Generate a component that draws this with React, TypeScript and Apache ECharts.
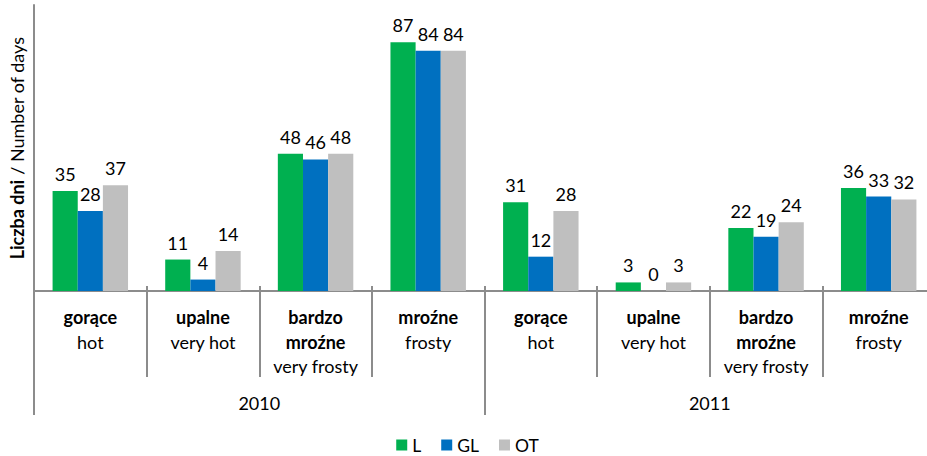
import React, { useEffect, useRef } from "react";
import * as echarts from "echarts";

const categoriesPl = ["gorące", "upalne", "bardzo\nmroźne", "mroźne", "gorące", "upalne", "bardzo\nmroźne", "mroźne"];
const categoriesEn = ["hot", "very hot", "very frosty", "frosty", "hot", "very hot", "very frosty", "frosty"];
const years = ["2010", "2011"];
const seriesNames = ["L", "GL", "OT"];
const valuesL = [35, 11, 48, 87, 31, 3, 22, 36];
const valuesGL = [28, 4, 46, 84, 12, 0, 19, 33];
const valuesOT = [37, 14, 48, 84, 28, 3, 24, 32];
const colors = ["#00B050", "#0070C0", "#BFBFBF"];

const FONT = "Lato";
const AXIS_COLOR = "#8C8C8C";

export default function App() {
  const ref = useRef<HTMLDivElement>(null);
  useEffect(() => {
    if (!ref.current) return;
    const chart = echarts.init(ref.current, null, { renderer: "svg" });
    const catLabels = categoriesPl.map((pl, i) => {
      const plLines = pl.split("\n").map((l) => `{b|${l}}`).join("\n");
      return `${plLines}\n{r|${categoriesEn[i]}}`;
    });
    const values = [valuesL, valuesGL, valuesOT];
    chart.setOption({
      animation: false,
      textStyle: { fontFamily: FONT },
      grid: { left: 32, right: 0, top: 5, bottom: 165, containLabel: false },
      legend: {
        bottom: -3,
        left: "center",
        icon: "rect",
        itemWidth: 11,
        itemHeight: 11,
        itemGap: 20,
        textStyle: { fontSize: 17.5, color: "#000", fontFamily: FONT },
        data: seriesNames,
      },
      xAxis: [
        {
          type: "category",
          data: catLabels,
          axisLine: { show: true, lineStyle: { color: AXIS_COLOR, width: 2 } },
          axisTick: { show: true, interval: 0, length: 86, lineStyle: { color: AXIS_COLOR, width: 2 } },
          axisLabel: {
            interval: 0,
            margin: 14,
            color: "#000",
            lineHeight: 24.5,
            rich: {
              b: { fontWeight: "bold", fontSize: 18, fontFamily: FONT, color: "#000", lineHeight: 24.5 },
              r: { fontSize: 18, fontFamily: FONT, color: "#000", lineHeight: 24.5 },
            },
          },
          splitLine: { show: false },
        },
        {
          type: "category",
          data: years,
          position: "bottom",
          axisLine: { show: false },
          axisTick: { show: true, interval: 0, length: 124, lineStyle: { color: AXIS_COLOR, width: 2 } },
          axisLabel: { interval: 0, margin: 103, fontSize: 18, color: "#000", fontFamily: FONT },
          splitLine: { show: false },
        },
        {
          type: "category",
          data: catLabels,
          position: "bottom",
          axisLine: { show: false },
          axisTick: { show: true, inside: true, interval: 0, length: 5, lineStyle: { color: AXIS_COLOR, width: 2 } },
          axisLabel: { show: false },
          splitLine: { show: false },
        },
      ],
      yAxis: {
        type: "value",
        min: 0,
        max: 100,
        axisLine: { show: true, lineStyle: { color: AXIS_COLOR, width: 2 } },
        axisTick: { show: false },
        axisLabel: { show: false },
        splitLine: { show: false },
        name: "{b|Liczba dni} / Number of days",
        nameLocation: "middle",
        nameRotate: 90,
        nameGap: 8,
        nameTextStyle: {
          fontSize: 18,
          color: "#000",
          fontFamily: FONT,
          rich: {
            b: { fontWeight: "bold", fontSize: 18, color: "#000", fontFamily: FONT },
          },
        },
      },
      series: seriesNames.map((name, i) => ({
        name,
        type: "bar",
        xAxisIndex: 0,
        data: values[i],
        barGap: "0%",
        barCategoryGap: "33%",
        itemStyle: { color: colors[i] },
        label: {
          show: true,
          position: "top",
          distance: 8,
          fontSize: 18,
          color: "#000",
          fontFamily: FONT,
        },
      })),
    });
    return () => chart.dispose();
  }, []);
  return (
    <div
      ref={ref}
      style={{ position: "fixed", left: 0, top: 0, width: 935, height: 456, background: "#fff" }}
    />
  );
}
